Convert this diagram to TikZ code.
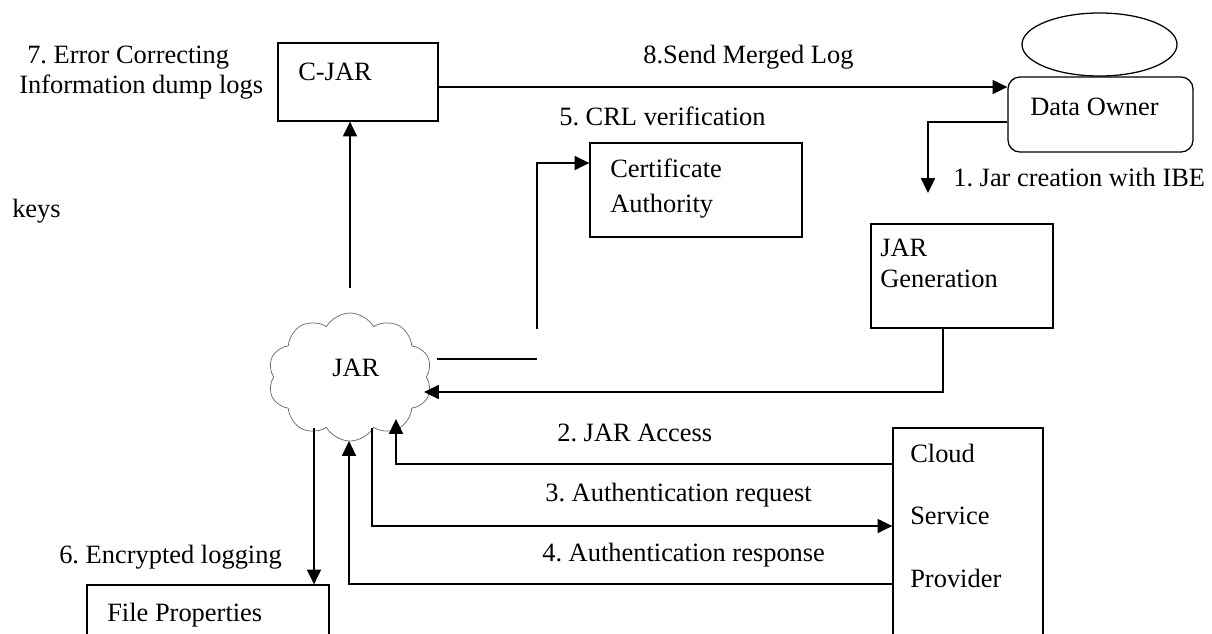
\documentclass[tikz,border=0pt]{standalone}
\usepackage{fontspec}
\setmainfont{Liberation Serif}
\usetikzlibrary{calc}
\usetikzlibrary{arrows.meta}
\usetikzlibrary{shapes.symbols,shapes.geometric}

\tikzset{
  box/.style={draw, line width=0.9pt, inner sep=0pt},
  lbl/.style={anchor=base west, inner sep=0pt},
  line/.style={line width=0.9pt},
}

\begin{document}
\frenchspacing
\begin{tikzpicture}[x=0.025cm,y=-0.025cm,>={Triangle[length=10.5pt,width=10pt]},
  font=\fontsize{18.8}{22}\selectfont]
\clip (0,0) rectangle (1212,633);

% boxes
\node[box, minimum width=4cm, minimum height=1.95cm] (cjar) at (358,82) {};
\node[box, rounded corners=0.3cm, minimum width=4.625cm, minimum height=1.875cm] (owner) at (1100.5,114.5) {};
\node[box, ellipse, minimum width=3.875cm, minimum height=1.575cm] (ownertop) at (1099.5,44.5) {};
\node[box, minimum width=5.3cm, minimum height=2.35cm] (ca) at (696,190) {};
\node[box, minimum width=4.55cm, minimum height=2.6cm] (jargen) at (962,276) {};
\node[box, minimum width=3.75cm, minimum height=5.8cm] (csp) at (968,544) {};
\node[box, minimum width=6.05cm, minimum height=1.875cm] (fileprop) at (208,622.5) {};
\node[draw=black!60, line width=0.5pt, cloud, cloud puffs=10, cloud puff arc=120, aspect=1.3,
  minimum width=4.1cm, minimum height=3.2cm, inner sep=0pt] (jar) at (350,377) {};

% texts
\node[lbl] (cjartxt) at (298,80) {C-JAR};
\node[lbl] (errtxt) at (27,63) {7. Error Correcting};
\node[lbl] (dumptxt) at (19,93) {Information dump logs};
\node[lbl] (keystxt) at (12,217) {keys};
\node[lbl] (sendtxt) at (643,63) {8.Send Merged Log};
\node[lbl] (crltxt) at (559,125) {5. CRL verification};
\node[lbl] (catxt) at (610,177) {Certificate};
\node[lbl] (catxtb) at (610,212) {Authority};
\node[lbl] (ownertxt) at (1030,115) {Data Owner};
\node[lbl] (ibetxt) at (953,186) {1. Jar creation with IBE};
\node[lbl] (gentxt) at (880,256) {JAR};
\node[lbl] (gentxtb) at (880,287) {Generation};
\node[lbl] (jartxt) at (332,376) {JAR};
\node[lbl] (accesstxt) at (557,441) {2. JAR Access};
\node[lbl] (reqtxt) at (545,501) {3. Authentication request};
\node[lbl] (resptxt) at (542,561) {4. Authentication response};
\node[lbl] (csptxt) at (910,462) {Cloud};
\node[lbl] (csptxtb) at (910,524) {Service};
\node[lbl] (csptxtc) at (910,587) {Provider};
\node[lbl] (enctxt) at (59,563) {6. Encrypted logging};
\node[lbl] (filetxt) at (107,621) {File Properties};

% connectors
\coordinate (up0) at (350,288);
\draw[line,->] (up0) -- (up0 |- cjar.south);

\coordinate (sendy) at (0,87);
\draw[line,->] (cjar.east |- sendy) -- (owner.west |- sendy);

\coordinate (ibey) at (0,122);
\coordinate (ibea) at (928,122);
\coordinate (ibeb) at (928,193);
\draw[line,->] (owner.west |- ibey) -- (ibea) -- (ibeb);

\coordinate (crla) at (437,359);
\coordinate (crlb) at (537,359);
\draw[line] (crla) -- (crlb);
\coordinate (crlc) at (537,329);
\coordinate (crld) at (537,163);
\draw[line,->] (crlc) -- (crld) -- (ca.west |- crld);

\coordinate (gena) at (943,392);
\coordinate (genb) at (424,392);
\draw[line,->] (gena |- jargen.south) -- (gena) -- (genb);

\coordinate (acca) at (396,464);
\coordinate (accb) at (396,419);
\draw[line,->] (csp.west |- acca) -- (acca) -- (accb);

\coordinate (reqa) at (372,428);
\coordinate (reqb) at (372,526);
\draw[line,->] (reqa) -- (reqb) -- (csp.west |- reqb);

\coordinate (respa) at (349,584);
\coordinate (respb) at (349,441);
\draw[line,->] (csp.west |- respa) -- (respa) -- (respb);

\coordinate (enca) at (314,428);
\draw[line,->] (enca) -- (enca |- fileprop.north);
\end{tikzpicture}
\end{document}
